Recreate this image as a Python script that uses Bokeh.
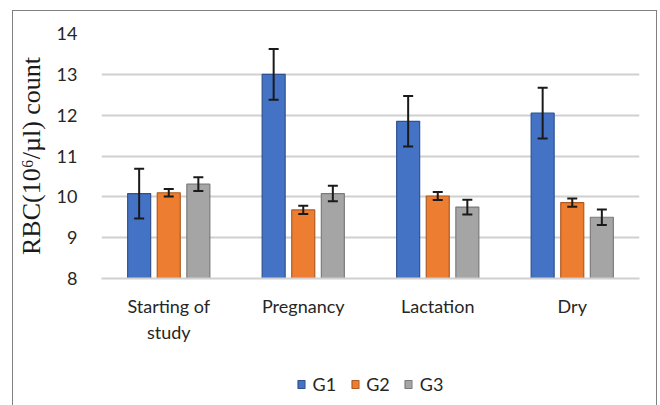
from bokeh.plotting import figure
from bokeh.layouts import column
from bokeh.models import (ColumnDataSource, FactorRange, Range1d, FixedTicker,
                          Whisker, TeeHead, Legend, LegendItem)
from bokeh.transform import dodge
from bokeh.embed import file_html
from bokeh.resources import INLINE

# Sampling periods and RBC counts (10^6/ul), mean and error per group
periods = ["Starting of\nstudy", "Pregnancy", "Lactation", "Dry"]
groups = ["G1", "G2", "G3"]
g1_mean = [10.08, 13.00, 11.85, 12.05]
g1_err = [0.61, 0.62, 0.62, 0.62]
g2_mean = [10.10, 9.68, 10.02, 9.86]
g2_err = [0.09, 0.10, 0.10, 0.10]
g3_mean = [10.31, 10.08, 9.75, 9.50]
g3_err = [0.17, 0.19, 0.18, 0.19]
y_ticks = [8, 9, 10, 11, 12, 13, 14]

fills = ["#4472C4", "#ED7D31", "#A5A5A5"]
edges = ["#2F528F", "#AE5A21", "#7B7B7B"]
offsets = [-0.22, 0.0, 0.22]

p = figure(width=643, height=351, x_range=FactorRange(*periods),
           y_range=Range1d(8, 14), output_backend="svg", toolbar_location=None,
           min_border_left=88, min_border_right=17, min_border_top=22,
           min_border_bottom=84, outline_line_color=None)

# legend strip under the chart; its y range sits above the data, so the
# key renderers only supply the legend swatches
leg = figure(width=643, height=44, x_range=p.x_range, y_range=Range1d(20, 21),
             output_backend="svg", toolbar_location=None,
             x_axis_location=None, y_axis_location=None, min_border=0,
             outline_line_color=None)
leg.xgrid.visible = False
leg.ygrid.visible = False

legend_items = []
for name, mean, err, fc, ec, off in zip(groups, [g1_mean, g2_mean, g3_mean],
                                         [g1_err, g2_err, g3_err], fills, edges, offsets):
    src = ColumnDataSource(dict(
        period=periods, mean=mean,
        upper=[m + e for m, e in zip(mean, err)],
        lower=[m - e for m, e in zip(mean, err)]))
    p.vbar(x=dodge("period", off, range=p.x_range), top="mean", bottom=8,
           width=0.171, source=src, fill_color=fc, line_color=ec, line_width=1.2)
    w = Whisker(base=dodge("period", off, range=p.x_range), upper="upper", lower="lower",
                source=src, line_color="#1a1a1a", line_width=2, level="overlay",
                upper_head=TeeHead(size=10, line_color="#1a1a1a", line_width=2),
                lower_head=TeeHead(size=10, line_color="#1a1a1a", line_width=2))
    p.add_layout(w)
    key = leg.vbar(x=dodge("period", off, range=p.x_range), top="mean", bottom=8,
                   width=0.171, source=src, fill_color=fc, line_color=ec, line_width=1.2)
    legend_items.append(LegendItem(label=name, renderers=[key]))

# y axis
p.yaxis.ticker = FixedTicker(ticks=y_ticks)
p.yaxis.axis_line_color = None
p.yaxis.major_tick_line_color = None
p.yaxis.minor_tick_line_color = None
p.yaxis.major_label_text_font = "Lato"
p.yaxis.major_label_text_font_size = "18px"
p.yaxis.major_label_text_color = "#262626"
p.yaxis.major_label_standoff = 18
p.yaxis.axis_label = "RBC(10\u2076/\u00b5l) count"
p.yaxis.axis_label_text_font = "Liberation Serif"
p.yaxis.axis_label_text_font_style = "normal"
p.yaxis.axis_label_text_font_size = "26px"
p.yaxis.axis_label_text_color = "#1a1a1a"
p.yaxis.axis_label_standoff = 8

# x axis
p.xaxis.axis_line_color = "#D0D0D0"
p.xaxis.axis_line_width = 2
p.xaxis.major_tick_line_color = None
p.xaxis.minor_tick_line_color = None
p.xaxis.major_label_text_font = "Lato"
p.xaxis.major_label_text_font_size = "18px"
p.xaxis.major_label_text_color = "#262626"
p.xaxis.major_label_standoff = 10

p.xgrid.grid_line_color = None
p.ygrid.grid_line_color = "#D0D0D0"
p.ygrid.grid_line_width = 2

legend = Legend(items=legend_items, orientation="horizontal", location="center",
                glyph_width=9, glyph_height=10, label_text_font="Lato",
                label_text_font_size="18px", label_text_color="#262626",
                spacing=14, label_standoff=7, border_line_color=None,
                background_fill_alpha=0, margin=0, padding=2)
leg.add_layout(legend)

layout = column(p, leg, margin=(10, 0, 0, 12),
                styles={"border-left": "1px solid #808080",
                        "border-top": "1px solid #808080",
                        "border-right": "1px solid #808080"})

open("out.html", "w").write(file_html(layout, INLINE))
